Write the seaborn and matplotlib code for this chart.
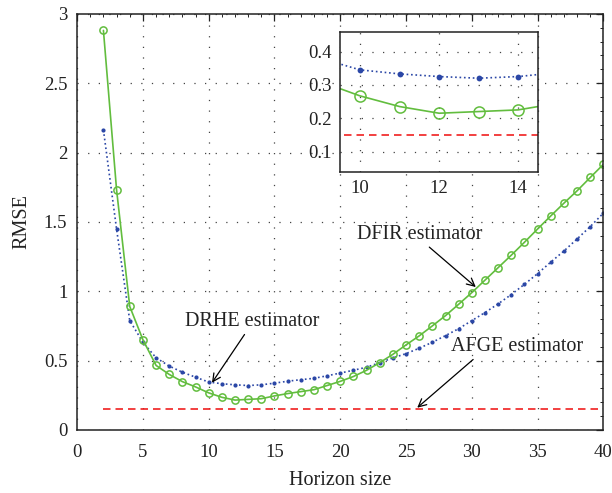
import numpy as np
import pandas as pd
import seaborn as sns
import matplotlib
matplotlib.use("Agg")
import matplotlib.pyplot as plt
from matplotlib.ticker import MultipleLocator, FuncFormatter

# ---------------- data ----------------
horizon = list(range(2, 41))
dfir = [2.88, 1.73, 0.89, 0.65, 0.465, 0.40, 0.348, 0.31, 0.267, 0.235,
        0.215, 0.22, 0.225, 0.245, 0.262, 0.276, 0.29, 0.32, 0.35, 0.385,
        0.43, 0.485, 0.545, 0.613, 0.678, 0.75, 0.824, 0.906, 0.99, 1.08,
        1.17, 1.26, 1.353, 1.449, 1.543, 1.635, 1.724, 1.82, 1.915]
drhe = [2.163, 1.447, 0.788, 0.632, 0.52, 0.46, 0.416, 0.38, 0.345, 0.333,
        0.325, 0.32, 0.325, 0.337, 0.351, 0.362, 0.372, 0.39, 0.41, 0.43,
        0.452, 0.485, 0.519, 0.55, 0.589, 0.632, 0.68, 0.73, 0.788, 0.846,
        0.909, 0.976, 1.05, 1.127, 1.21, 1.29, 1.377, 1.466, 1.563]
afge_x = [2, 40]
afge = [0.15, 0.15]

main_xticks = [0, 5, 10, 15, 20, 25, 30, 35, 40]
main_yticks = [0, 0.5, 1, 1.5, 2, 2.5, 3]
inset_xticks = [10, 12, 14]
inset_yticks = [0.1, 0.2, 0.3, 0.4]

df = pd.DataFrame({"N": horizon, "DFIR": dfir, "DRHE": drhe})
df_afge = pd.DataFrame({"N": afge_x, "AFGE": afge})

# ---------------- style ----------------
sns.set_style("white")
plt.rcParams["font.family"] = ["Liberation Serif", "DejaVu Serif"]
plt.rcParams["axes.edgecolor"] = "#222222"
plt.rcParams["xtick.direction"] = "in"
plt.rcParams["ytick.direction"] = "in"

GREEN = "#62bd3e"
BLUE = "#2b47a6"
RED = "#f02020"
GRID = dict(color="#444444", linestyle=(0, (1.0, 7.5)), linewidth=0.9)

fig = plt.figure(figsize=(6.12, 4.93), dpi=100)
ax = fig.add_axes([0.126, 0.128, 0.860, 0.844])


def draw(axis, ms_circle, ms_dot):
    sns.lineplot(data=df, x="N", y="DRHE", ax=axis, color=BLUE, linestyle=":",
                 linewidth=1.2, marker="o", markersize=ms_dot,
                 markeredgewidth=0, markerfacecolor=BLUE, clip_on=True)
    sns.lineplot(data=df, x="N", y="DFIR", ax=axis, color=GREEN, linestyle="-",
                 linewidth=1.2, marker="o", markersize=ms_circle,
                 markerfacecolor="none", markeredgecolor=GREEN,
                 markeredgewidth=1.1)
    sns.lineplot(data=df_afge, x="N", y="AFGE", ax=axis, color=RED,
                 linestyle=(0, (4.5, 3.0)), linewidth=1.2)


draw(ax, 5.2, 3.0)

ax.set_xlim(0, 40)
ax.set_ylim(0, 3)
ax.set_xticks(main_xticks)
ax.set_yticks(main_yticks)
ax.xaxis.set_minor_locator(MultipleLocator(1))
ax.yaxis.set_minor_locator(MultipleLocator(0.1))
fmt = FuncFormatter(lambda v, p: ("%g" % v))
ax.yaxis.set_major_formatter(fmt)
ax.tick_params(which="both", top=True, right=True, labelsize=13.5,
               colors="#222222")
ax.tick_params(axis="x", which="major", pad=10)
ax.tick_params(axis="y", which="major", pad=7)
ax.tick_params(which="major", length=5, width=0.9)
ax.tick_params(which="minor", length=2.5, width=0.7)
ax.grid(True, which="major", **GRID)
ax.set_xlabel("Horizon size", fontsize=14.5, labelpad=7, color="#222222")
ax.set_ylabel("RMSE", fontsize=14.5, labelpad=9, color="#222222")
for s in ax.spines.values():
    s.set_linewidth(1.1)

arrow = dict(arrowstyle="->", color="black", lw=0.9, shrinkA=0, shrinkB=0,
             mutation_scale=14)
ax.annotate("DRHE estimator", xy=(10.25, 0.34), xytext=(13.3, 0.78),
            fontsize=14.5, ha="center", va="center", color="#222222",
            arrowprops=dict(arrow, relpos=(0.46, 0.0)))
ax.annotate("DFIR estimator", xy=(30.3, 1.03), xytext=(26.0, 1.41),
            fontsize=14.5, ha="center", va="center", color="#222222",
            arrowprops=dict(arrow, relpos=(0.55, 0.0)))
ax.annotate("AFGE estimator", xy=(25.85, 0.16), xytext=(33.4, 0.60),
            fontsize=14.5, ha="center", va="center", color="#222222",
            arrowprops=dict(arrow, relpos=(0.2, 0.0)))

# ---------------- inset ----------------
ins = fig.add_axes([0.556, 0.652, 0.323, 0.284])
ins.set_facecolor("white")
draw(ins, 8.0, 4.2)
ins.set_xlim(9.5, 14.5)
ins.set_ylim(0.04, 0.46)
ins.set_xticks(inset_xticks)
ins.set_yticks(inset_yticks)
ins.yaxis.set_major_formatter(fmt)
ins.tick_params(which="both", labelsize=13.5, colors="#222222", length=3,
                pad=6)
ins.grid(True, which="major", **GRID)
ins.set_xlabel("")
ins.set_ylabel("")
for s in ins.spines.values():
    s.set_linewidth(1.1)

fig.savefig("out.png", dpi=100)
